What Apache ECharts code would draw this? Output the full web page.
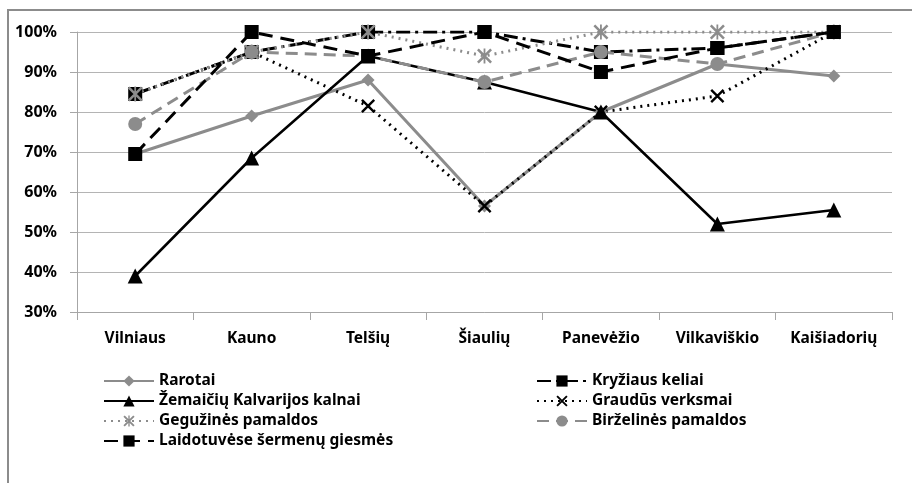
<!DOCTYPE html>
<html>
<head>
<meta charset="utf-8">
<script src="https://cdn.jsdelivr.net/npm/echarts@6/dist/echarts.min.js"></script>
<style>
  html, body { margin: 0; padding: 0; background: #fff; }
  #chart { width: 912px; height: 483px; }
</style>
</head>
<body>
<div id="chart"></div>
<script>
// kategorijos (x ašis)
var categories = ['Vilniaus', 'Kauno', 'Telšių', 'Šiaulių', 'Panevėžio', 'Vilkaviškio', 'Kaišiadorių'];
var yTicks = [30, 40, 50, 60, 70, 80, 90, 100];

// reikšmės, %
var rarotai     = [69.5, 79, 88, 56.5, 80, 92, 89];
var kryziaus    = [84.5, 95, 100, 100, 95, 96, 100];
var zemaiciu    = [39, 68.5, 94, 87.5, 80, 52, 55.5];
var graudus     = [84.5, 95, 81.5, 56.5, 80, 84, 100];
var geguzines   = [84.5, 95, 100, 94, 100, 100, 100];
var birzelines  = [77, 95, 94, 87.5, 95, 92, 100];
var laidotuvese = [69.5, 100, 94, 100, 90, 96, 100];

var GRAY = '#8c8c8c';
var FONT = 'Noto Sans';
var X_PATH = 'path://M0,1.2 L1.2,0 L10,8.8 L8.8,10 Z M8.8,0 L10,1.2 L1.2,10 L0,8.8 Z';
var STAR_PATH = 'path://M0,1.2 L1.2,0 L10,8.8 L8.8,10 Z M8.8,0 L10,1.2 L1.2,10 L0,8.8 Z M4.4,0 L5.6,0 L5.6,10 L4.4,10 Z';

function mkSeries(name, data, color, width, dash, symbol, size) {
    return {
        name: name,
        type: 'line',
        data: data,
        symbol: symbol,
        symbolSize: size,
        showAllSymbol: true,
        lineStyle: { color: color, width: width, type: dash, cap: 'butt' },
        itemStyle: { color: color },
        emphasis: { disabled: true },
        z: 2
    };
}

var labelFont = { color: '#000', fontSize: 15.5, fontWeight: 'bold', fontFamily: FONT };

var myChart = echarts.init(document.getElementById('chart'));
myChart.setOption({
    animation: false,
    textStyle: { fontFamily: FONT },
    graphic: [{
        type: 'rect',
        shape: { x: 8, y: 10, width: 1000, height: 600 },
        style: { fill: 'none', stroke: '#8c8c8c', lineWidth: 2 },
        silent: true
    }],
    grid: { left: 77, right: 20, top: 32, bottom: 171 },
    xAxis: {
        type: 'category',
        data: categories,
        boundaryGap: true,
        axisLine: { lineStyle: { color: '#a6a6a6', width: 1 } },
        axisTick: { show: true, length: 8, lineStyle: { color: '#a6a6a6' } },
        axisLabel: Object.assign({ margin: 19 }, labelFont)
    },
    yAxis: {
        type: 'value',
        min: yTicks[0],
        max: yTicks[yTicks.length - 1],
        interval: 10,
        axisLine: { show: true, lineStyle: { color: '#a6a6a6', width: 1 } },
        axisTick: { show: true, length: 7, lineStyle: { color: '#a6a6a6' } },
        splitLine: { lineStyle: { color: '#b4b4b4', width: 1 } },
        axisLabel: Object.assign({ margin: 20, formatter: '{value}%' }, labelFont, { fontSize: 16 })
    },
    legend: [{
        left: 98, top: 368, orient: 'vertical',
        itemWidth: 50, itemHeight: 14, itemGap: 4,
        textStyle: labelFont,
        data: ['Rarotai', 'Žemaičių Kalvarijos kalnai', 'Gegužinės pamaldos', 'Laidotuvėse šermenų giesmės']
    }, {
        left: 531, top: 368, orient: 'vertical',
        itemWidth: 50, itemHeight: 14, itemGap: 4,
        textStyle: labelFont,
        data: ['Kryžiaus keliai', 'Graudūs verksmai', 'Birželinės pamaldos']
    }],
    series: [
        mkSeries('Rarotai', rarotai, GRAY, 3, 'solid', 'diamond', 13),
        mkSeries('Kryžiaus keliai', kryziaus, '#000', 3, [14, 5, 3, 5], 'rect', 14),
        mkSeries('Žemaičių Kalvarijos kalnai', zemaiciu, '#000', 2.5, 'solid', 'triangle', 15),
        mkSeries('Graudūs verksmai', graudus, '#000', 3, [2, 5], X_PATH, 14),
        mkSeries('Gegužinės pamaldos', geguzines, GRAY, 3, [2, 5], STAR_PATH, 15),
        mkSeries('Birželinės pamaldos', birzelines, GRAY, 3, [12, 7], 'circle', 14),
        mkSeries('Laidotuvėse šermenų giesmės', laidotuvese, '#000', 3, [14, 8], 'rect', 14)
    ]
});
</script>
</body>
</html>
